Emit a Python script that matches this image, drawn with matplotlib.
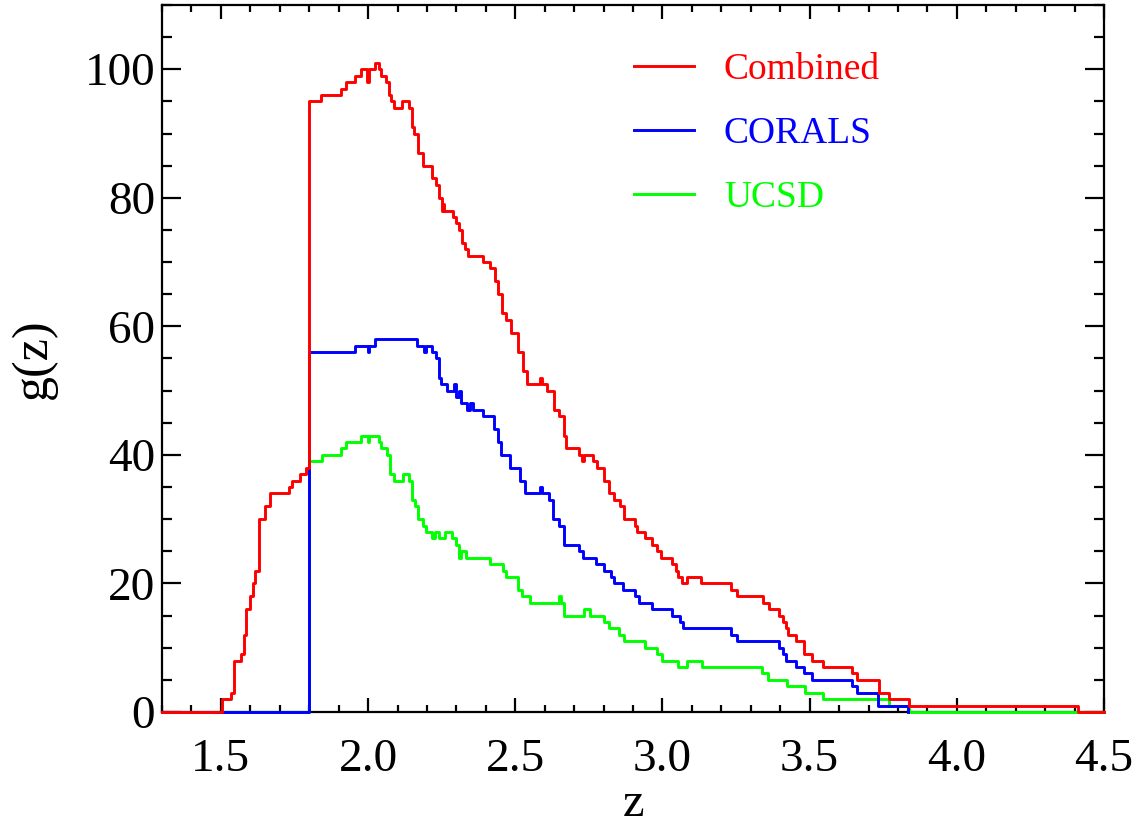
import matplotlib
matplotlib.use('Agg')
import matplotlib.pyplot as plt
from matplotlib.ticker import MultipleLocator, FormatStrFormatter

# ---- data (step edges in z, value holds until next edge) ----
z_combined = [1.300, 1.504, 1.535, 1.546, 1.569, 1.578, 1.587, 1.598, 1.610, 1.617,
              1.631, 1.651, 1.666, 1.733, 1.742, 1.770, 1.790, 1.800, 1.840, 1.908,
              1.925, 1.957, 1.976, 1.997, 2.002, 2.025, 2.036, 2.044, 2.062, 2.070,
              2.078, 2.089, 2.115, 2.138, 2.149, 2.155, 2.168, 2.187, 2.217, 2.232,
              2.242, 2.250, 2.253, 2.258, 2.290, 2.300, 2.310, 2.319, 2.330, 2.341,
              2.392, 2.415, 2.430, 2.440, 2.455, 2.469, 2.485, 2.511, 2.526, 2.540,
              2.585, 2.590, 2.608, 2.630, 2.647, 2.664, 2.672, 2.715, 2.726, 2.734,
              2.764, 2.777, 2.802, 2.817, 2.834, 2.856, 2.868, 2.907, 2.915, 2.941,
              2.966, 2.983, 2.995, 3.032, 3.046, 3.054, 3.066, 3.085, 3.130, 3.233,
              3.253, 3.341, 3.362, 3.397, 3.409, 3.420, 3.428, 3.454, 3.481, 3.508,
              3.546, 3.644, 3.661, 3.736, 3.770, 3.838, 4.411, 4.500]
g_combined = [0, 2, 3, 8, 9, 12, 16, 18, 20, 22,
              30, 32, 34, 35, 36, 37, 38, 95, 96, 97,
              98, 99, 100, 98, 100, 101, 100, 99, 98, 96,
              95, 94, 95, 94, 91, 90, 87, 85, 83, 82,
              80, 78, 79, 78, 77, 76, 75, 73, 72, 71,
              70, 69, 67, 65, 62, 61, 59, 56, 53, 51,
              52, 51, 50, 47, 46, 43, 41, 40, 39, 40,
              39, 38, 36, 34, 33, 32, 30, 29, 28, 27,
              26, 25, 24, 23, 22, 21, 20, 21, 20, 19,
              18, 17, 16, 15, 14, 13, 12, 11, 9, 8,
              7, 6, 5, 3, 2, 1, 0, 0]

z_corals = [1.300, 1.800, 1.957, 1.999, 2.004, 2.025, 2.166, 2.189, 2.198, 2.217,
            2.232, 2.240, 2.248, 2.268, 2.293, 2.300, 2.308, 2.316, 2.336, 2.345,
            2.358, 2.392, 2.429, 2.440, 2.452, 2.483, 2.517, 2.534, 2.585, 2.591,
            2.613, 2.628, 2.650, 2.666, 2.715, 2.730, 2.775, 2.802, 2.825, 2.834,
            2.866, 2.907, 2.919, 2.964, 3.032, 3.060, 3.069, 3.233, 3.253, 3.397,
            3.409, 3.420, 3.454, 3.482, 3.507, 3.643, 3.662, 3.733, 3.835]
g_corals = [0, 56, 57, 56, 57, 58, 57, 56, 57, 56,
            55, 52, 51, 50, 51, 49, 50, 48, 47, 48,
            47, 46, 44, 42, 40, 38, 36, 34, 35, 34,
            33, 30, 29, 26, 25, 24, 23, 22, 21, 20,
            19, 18, 17, 16, 15, 14, 13, 12, 11, 10,
            9, 8, 7, 6, 5, 4, 3, 1, 0]

z_ucsd = [1.300, 1.800, 1.844, 1.908, 1.926, 1.977, 1.999, 2.004, 2.036, 2.044,
          2.064, 2.076, 2.087, 2.119, 2.138, 2.150, 2.160, 2.168, 2.187, 2.198,
          2.217, 2.228, 2.240, 2.262, 2.285, 2.300, 2.310, 2.316, 2.332, 2.415,
          2.458, 2.469, 2.511, 2.523, 2.551, 2.650, 2.655, 2.666, 2.732, 2.755,
          2.802, 2.820, 2.851, 2.870, 2.941, 2.981, 2.998, 3.054, 3.083, 3.134,
          3.337, 3.360, 3.422, 3.484, 3.544, 3.770, 3.838, 4.500]
g_ucsd = [0, 39, 40, 41, 42, 43, 42, 43, 42, 41,
          40, 37, 36, 37, 36, 33, 32, 30, 29, 28,
          27, 28, 27, 28, 27, 26, 24, 25, 24, 23,
          22, 21, 19, 18, 17, 18, 17, 15, 16, 15,
          14, 13, 12, 11, 10, 9, 8, 7, 8, 7,
          6, 5, 4, 3, 2, 1, 0, 0]

series_labels = ['Combined', 'CORALS', 'UCSD']
series_colors = ['#ff0000', '#0000ff', '#00ff00']

x_label = 'z'
y_label = 'g(z)'

# ---- figure ----
plt.rcParams['font.family'] = ['Liberation Serif', 'DejaVu Serif']

fig = plt.figure(figsize=(11.32, 8.27), dpi=100)
ax = fig.add_axes([0.1431, 0.1391, 0.8322, 0.8549])

lw = 2.1
h_ucsd, = ax.step(z_ucsd, g_ucsd, where='post', color=series_colors[2], lw=lw,
                  zorder=3, clip_on=False)
h_cor, = ax.step(z_corals, g_corals, where='post', color=series_colors[1], lw=lw,
                 zorder=4, clip_on=False)
h_comb, = ax.step(z_combined, g_combined, where='post', color=series_colors[0], lw=lw,
                  zorder=5, clip_on=False)

ax.set_xlim(1.3, 4.5)
ax.set_ylim(0, 110)

ax.xaxis.set_major_locator(MultipleLocator(0.5))
ax.xaxis.set_minor_locator(MultipleLocator(0.1))
ax.xaxis.set_major_formatter(FormatStrFormatter('%.1f'))
ax.yaxis.set_major_locator(MultipleLocator(20))
ax.yaxis.set_minor_locator(MultipleLocator(5))

for s in ax.spines.values():
    s.set_linewidth(1.6)
    s.set_zorder(2)

ax.tick_params(which='both', direction='in', top=True, right=True, width=1.6, labelsize=34)
ax.tick_params(axis='x', which='major', length=10, pad=19)
ax.tick_params(axis='x', which='minor', length=5)
ax.tick_params(axis='y', which='major', length=14, pad=5)
ax.tick_params(axis='y', which='minor', length=7)

ax.set_xlabel(x_label, fontsize=35, labelpad=1)
ax.set_ylabel(y_label, fontsize=36, labelpad=20)

leg = ax.legend([h_comb, h_cor, h_ucsd], series_labels, loc='upper left',
                bbox_to_anchor=(0.465, 0.981), frameon=False, fontsize=27,
                handlelength=1.6, handletextpad=0.8, labelspacing=0.79,
                labelcolor='linecolor')

fig.savefig('out.png', dpi=100)
